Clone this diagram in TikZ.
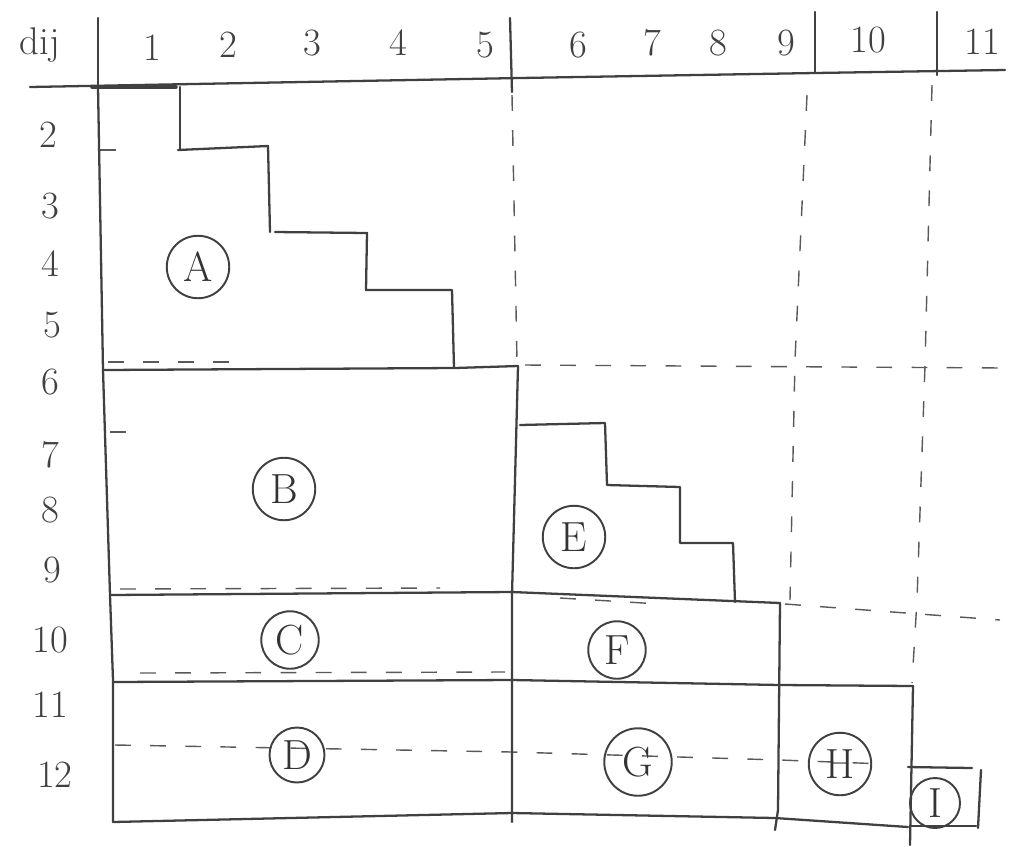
\documentclass[tikz,border=0pt]{standalone}
\begin{document}
\begin{tikzpicture}[x=0.02cm,y=-0.02cm,
  ink/.style={line width=1.3pt, draw=black!75, line cap=round, line join=round},
  dashline/.style={line width=0.8pt, draw=black!65, dash pattern=on 9pt off 11pt},
  lab/.style={font=\fontsize{22}{24}\selectfont, text=black!75, inner sep=0pt},
  region/.style={circle, draw=black!75, line width=1.1pt, minimum size=1.25cm, inner sep=0pt, font=\fontsize{24}{26}\selectfont, text=black!80}]
\useasboundingbox (0,0) rectangle (1021,846);

% header labels
\node[lab] (dij) at (40,45) {dij};
\node[lab] (c1) at (152,48) {1};
\node[lab] (c2) at (228,45) {2};
\node[lab] (c3) at (312,43) {3};
\node[lab] (c4) at (398,43) {4};
\node[lab] (c5) at (485,45) {5};
\node[lab] (c6) at (578,45) {6};
\node[lab] (c7) at (652,43) {7};
\node[lab] (c8) at (718,43) {8};
\node[lab] (c9) at (786,43) {9};
\node[lab] (c10) at (868,40) {10};
\node[lab] (c11) at (982,42) {11};

% row labels
\node[lab] (r2) at (48,135) {2};
\node[lab] (r3) at (50,206) {3};
\node[lab] (r4) at (50,264) {4};
\node[lab] (r5) at (52,325) {5};
\node[lab] (r6) at (50,382) {6};
\node[lab] (r7) at (50,455) {7};
\node[lab] (r8) at (50,510) {8};
\node[lab] (r9) at (52,570) {9};
\node[lab] (r10) at (50,640) {10};
\node[lab] (r11) at (50,705) {11};
\node[lab] (r12) at (55,775) {12};

% header frame
\draw[ink] (30,87) -- (520,78) -- (815,73) -- (1005,70);
\draw[ink] (98,18) -- (98,87);
\draw[ink] (510,18) -- (512,92);
\draw[ink] (815,12) -- (815,73);
\draw[ink] (937,12) -- (937,75);
\draw[ink, line width=2pt] (92,87) -- (176,87);

% dashed grid lines
\draw[dashline] (512,95) -- (517,362);
\draw[dashline] (525,365) -- (1003,368);
\draw[dashline] (807,95) -- (795,360) -- (790,600);
\draw[dashline] (932,85) -- (925,365) -- (917,600) -- (912,683);
\draw[dashline] (785,604) -- (1000,620);
\draw[dashline] (115,745) -- (512,752) -- (780,760) -- (885,764);
\draw[dashline] (100,150) -- (135,150);
\draw[dashline] (110,432) -- (140,432);
\draw[dashline] (108,362) -- (240,362);
\draw[dashline] (120,589) -- (440,588);
\draw[dashline] (140,673) -- (505,672);
\draw[dashline] (560,598) -- (660,604);

% left edge
\draw[ink] (98,87) -- (103,370) -- (110,595) -- (113,680) -- (113,822);

% staircase A
\draw[ink] (180,87) -- (180,150);
\draw[ink] (178,150) -- (268,146) -- (270,232);
\draw[ink] (275,232) -- (367,233) -- (366,290) -- (452,290) -- (454,368);

% B top and right
\draw[ink] (103,370) -- (455,368) -- (518,366);
\draw[ink] (518,366) -- (512,595) -- (512,822);

% staircase E
\draw[ink] (520,425) -- (605,423) -- (607,485) -- (680,487) -- (680,543) -- (733,543) -- (735,602);

% C top / F top
\draw[ink] (110,595) -- (512,592) -- (780,603);
% F, G right edge
\draw[ink] (780,603) -- (778,810) -- (775,830);
% C bottom / F bottom / H top
\draw[ink] (113,682) -- (512,680) -- (780,685) -- (913,686);
% H right edge
\draw[ink] (913,686) -- (910,845);
% bottom of D, G, H
\draw[ink] (113,822) -- (512,813) -- (775,818) -- (908,827);
% I box
\draw[ink] (908,767) -- (972,768);
\draw[ink] (981,770) -- (978,828);
\draw[ink] (910,826) -- (976,826);

% region labels
\node[region] (A) at (198,267) {A};
\node[region] (B) at (284,489) {B};
\node[region, minimum size=1.15cm] (C) at (290,640) {C};
\node[region, minimum size=1.1cm] (D) at (297,755) {D};
\node[region] (E) at (574,537) {E};
\node[region, minimum size=1.15cm] (F) at (617,650) {F};
\node[region, minimum size=1.35cm] (G) at (638,762) {G};
\node[region] (H) at (840,764) {H};
\node[region, minimum size=1cm] (I) at (935,803) {I};
\end{tikzpicture}
\end{document}
